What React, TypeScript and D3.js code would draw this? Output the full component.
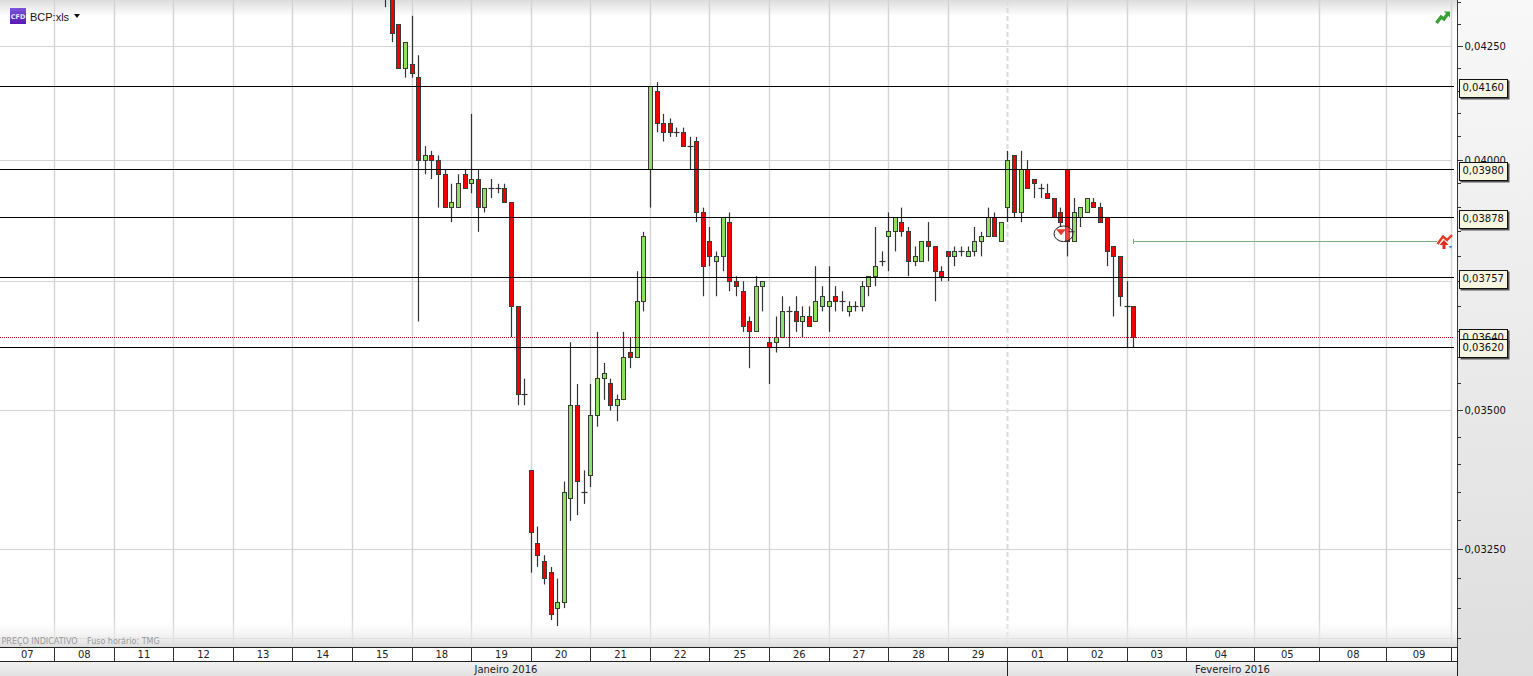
import React from "react";
import * as d3 from "d3";

const opens = [.0440,.0436,.0430,.0420,.0421,.0418,.0400,.0401,.0400,.0397,.0390,.0390,.0397,.0395,.0396,.0390,.0394,.0394,.0394,.0391,.0370,.0353,.0339,.0326,.0323,.0321,.0315,.0316,.0334,.0351,.0335,.0338,.0349,.0356,.0355,.0351,.0352,.0361,.0360,.0371,.0398,.0415,.0408,.0408,.0406,.0406,.0403,.0404,.0389,.0383,.0379,.0380,.0387,.0375,.0373,.0367,.0365,.0374,.0363,.0363,.0364,.0369,.0369,.0367,.0368,.0367,.0370,.0370,.0372,.0371,.0369,.0370,.0370,.0374,.0376,.0379,.0384,.0385,.0387,.0385,.0379,.0379,.0383,.0382,.0377,.0381,.0380,.0381,.0380,.0381,.0383,.0384,.0388,.0383,.0390,.0401,.0389,.0398,.0396,.0394,.0393,.0392,.0389,.0398,.0383,.0388,.0389,.0391,.0390,.0388,.0382,.0380,.0370,.0370];
const highs = [.0442,.0437,.0430,.0426,.0432,.0423,.0403,.0402,.0401,.0398,.0395,.0397,.0398,.0410,.0398,.0394,.0396,.0395,.0395,.0391,.0370,.0356,.0339,.0329,.0324,.0322,.0320,.0337,.0363,.0355,.0339,.0355,.0365,.0359,.0356,.0353,.0365,.0364,.0377,.0385,.0416,.0417,.0410,.0409,.0407,.0407,.0405,.0405,.0390,.0386,.0381,.0388,.0389,.0376,.0375,.0368,.0376,.0375,.0364,.0368,.0372,.0370,.0372,.0370,.0370,.0378,.0374,.0378,.0374,.0373,.0371,.0371,.0375,.0376,.0386,.0381,.0389,.0388,.0390,.0386,.0382,.0383,.0387,.0382,.0378,.0381,.0382,.0382,.0382,.0386,.0385,.0390,.0389,.0387,.0402,.0401,.0402,.0400,.0396,.0395,.0395,.0392,.0390,.0398,.0392,.0390,.0392,.0392,.0391,.0388,.0382,.0380,.0375,.0370];
const lows = [.0434,.0426,.0420,.0418,.0418,.0367,.0397,.0396,.0390,.0390,.0387,.0390,.0394,.0393,.0385,.0389,.0392,.0393,.0391,.0364,.0351,.0351,.0321,.0322,.0319,.0313,.0312,.0315,.0330,.0331,.0333,.0336,.0347,.0352,.0350,.0348,.0352,.0358,.0360,.0369,.0390,.0406,.0404,.0405,.0405,.0403,.0398,.0387,.0372,.0378,.0372,.0377,.0373,.0372,.0365,.0358,.0365,.0369,.0355,.0361,.0364,.0362,.0365,.0364,.0366,.0367,.0369,.0365,.0369,.0369,.0368,.0369,.0369,.0372,.0374,.0378,.0377,.0381,.0384,.0376,.0378,.0379,.0379,.0371,.0375,.0375,.0378,.0380,.0380,.0380,.0380,.0384,.0384,.0383,.0387,.0388,.0387,.0394,.0392,.0392,.0392,.0388,.0386,.0380,.0383,.0386,.0389,.0390,.0387,.0378,.0368,.0370,.0362,.0362];
const closes = [.0437,.0428,.0420,.0426,.0419,.0400,.0401,.0400,.0397,.0390,.0391,.0395,.0394,.0396,.0390,.0394,.0394,.0394,.0391,.0370,.0353,.0353,.0328,.0324,.0320,.0314,.0316,.0335,.0351,.0337,.0335,.0349,.0356,.0357,.0351,.0352,.0360,.0360,.0371,.0384,.0416,.0408,.0406,.0406,.0406,.0403,.0403,.0389,.0378,.0380,.0380,.0388,.0375,.0374,.0366,.0365,.0374,.0375,.0362,.0364,.0369,.0369,.0367,.0368,.0366,.0371,.0372,.0371,.0371,.0371,.0370,.0370,.0374,.0376,.0378,.0379,.0385,.0388,.0385,.0379,.0380,.0383,.0382,.0377,.0376,.0380,.0381,.0381,.0381,.0383,.0384,.0388,.0384,.0387,.0400,.0389,.0398,.0394,.0395,.0394,.0392,.0388,.0387,.0383,.0389,.0390,.0392,.0390,.0387,.0381,.0380,.0372,.0370,.0364];

const levels = [0.0416, 0.0398, 0.03879, 0.03757, 0.0362];
const levelLabels = ["0,04160", "0,03980", "0,03878", "0,03757", "0,03620"];
const lastPrice = 0.0364;
const lastPriceLabel = "0,03640";
const labelledTicks = [0.0425, 0.04, 0.035, 0.0325];
const labelledTickText = ["0,04250", "0,04000", "0,03500", "0,03250"];
const gridPrices = [0.0425, 0.04, 0.0375, 0.035, 0.0325, 0.031];
const minorTicks = [0.0435,0.043,0.042,0.0415,0.041,0.0405,0.0395,0.039,0.0385,0.038,0.0375,0.037,0.0365,0.036,0.0355,0.0345,0.034,0.0335,0.033,0.032,0.0315,0.031];
const dayLabels = ["07","08","11","12","13","14","15","18","19","20","21","22","25","26","27","28","29","01","02","03","04","05","08","09"];
// day boundaries, in candle-slot units
const dayBounds = [-50,-41,-32,-23,-14,-5,4,13,22,31,40,49,58,67,76,85,94,103,112,121,131.3,141.1,151.2,161];
const monthBoundIndex = 94;
const signalPrice = 0.0383;
const signalIndex = 113;
const markerIndex = 102.4;
const markerPrice = 0.03846;
const months = ["Janeiro 2016", "Fevereiro 2016"];

const W = 1533, H = 676;
const font = "'DejaVu Sans', sans-serif";

export default function App() {
  const y = d3.scaleLog().domain([0.0425, 0.0325]).range([46.5, 549.5]);
  const x = d3.scaleLinear().domain([0, 113]).range([385.6, 1133.7]);
  const snap = (v: number) => Math.round(v - 0.5) + 0.5;
  const plotRight = 1457;
  const plotBottom = 647;
  const row1 = 661;
  const bounds = [0, ...dayBounds.map((d) => x(d))];
  const monthX = x(monthBoundIndex);
  const markX = x(markerIndex), markY = y(markerPrice);
  const sigY = snap(y(signalPrice));
  const sigX = snap(x(signalIndex));

  return (
    <svg width={W} height={H} style={{ position: "fixed", left: 0, top: 0, display: "block", background: "#fff" }}>
      <defs>
        <linearGradient id="top" x1="0" y1="0" x2="0" y2="1">
          <stop offset="0" stopColor="#dcdcdc" />
          <stop offset="1" stopColor="#ffffff" />
        </linearGradient>
        <linearGradient id="bot" x1="0" y1="0" x2="0" y2="1">
          <stop offset="0" stopColor="#ffffff" stopOpacity="0" />
          <stop offset="1" stopColor="#dcdcdc" stopOpacity="1" />
        </linearGradient>
        <linearGradient id="side" x1="0" y1="0" x2="0" y2="1">
          <stop offset="0" stopColor="#f8f8f8" />
          <stop offset="1" stopColor="#dedede" />
        </linearGradient>
        <linearGradient id="month" x1="0" y1="0" x2="0" y2="1">
          <stop offset="0" stopColor="#f2f2f2" />
          <stop offset="1" stopColor="#e2e2e2" />
        </linearGradient>
        <linearGradient id="cfd" x1="0" y1="0" x2="0" y2="1">
          <stop offset="0" stopColor="#7a55d8" />
          <stop offset="1" stopColor="#5a18b0" />
        </linearGradient>
        <clipPath id="plot"><rect x={0} y={0} width={plotRight} height={plotBottom} /></clipPath>
      </defs>

      <rect x={0} y={0} width={plotRight} height={16} fill="url(#top)" />

      {/* grid */}
      {gridPrices.map((p) => (
        <line key={p} x1={0} x2={1452} y1={snap(y(p))} y2={snap(y(p))} stroke="#d4d4d4" strokeWidth={1.2} />
      ))}
      {dayBounds.map((d, i) => {
        const gx = snap(x(d));
        return (
          <line key={i} x1={gx} x2={gx} y1={0} y2={plotBottom}
            stroke={d === monthBoundIndex ? "#dcdcdc" : "#d4d4d4"} strokeWidth={d === monthBoundIndex ? 2 : 1.4}
            strokeDasharray={d === monthBoundIndex ? "5 3" : undefined} />
        );
      })}

      <rect x={0} y={618} width={plotRight} height={plotBottom - 618} fill="url(#bot)" />

      {/* side panel */}
      <rect x={plotRight} y={0} width={W - plotRight} height={H} fill="url(#side)" />
      <line x1={plotRight + 0.5} x2={plotRight + 0.5} y1={0} y2={plotBottom} stroke="#3a3a3a" />

      {/* candles */}
      <g clipPath="url(#plot)">
        {opens.map((o, i) => {
          const c = closes[i];
          const cx = snap(x(i));
          const top = Math.max(o, c), bot = Math.min(o, c);
          const yTop = snap(y(top)), yBot = snap(y(bot));
          return (
            <g key={i}>
              <line x1={cx} x2={cx} y1={y(highs[i])} y2={y(lows[i])} stroke="#333" strokeWidth={1.2} />
              {o === c ? (
                <line x1={cx - 3} x2={cx + 3} y1={yTop} y2={yTop} stroke="#333" strokeWidth={1.2} />
              ) : (
                <rect x={cx - 2} y={yTop} width={4} height={Math.max(yBot - yTop, 3)}
                  fill={c < o ? "#f00000" : "#90e060"} stroke="#3a3a3a" strokeWidth={1} />
              )}
            </g>
          );
        })}
      </g>

      {/* last price */}
      <line x1={0} x2={1454} y1={snap(y(lastPrice))} y2={snap(y(lastPrice))} stroke="#a81818" strokeWidth={1} strokeDasharray="1 1" />
      {/* levels */}
      {levels.map((p) => (
        <line key={p} x1={0} x2={1454} y1={snap(y(p))} y2={snap(y(p))} stroke="#000" strokeWidth={1} />
      ))}

      {/* signal line */}
      <line x1={sigX} x2={1437} y1={sigY} y2={sigY} stroke="#7fae7f" strokeWidth={1} />
      <line x1={sigX} x2={sigX} y1={sigY - 2.5} y2={sigY + 2.5} stroke="#7fae7f" strokeWidth={1} />

      {/* marker */}
      <ellipse cx={markX} cy={markY} rx={9.5} ry={7.8} fill="#fff" fillOpacity={0.25} stroke="#222" strokeWidth={1} />
      <path d={`M${markX - 7.5},${markY - 4.5} h10 l-5,6 z`} fill="#e8392a" />
      <line x1={markX + 5} x2={markX + 11} y1={markY - 2} y2={markY - 2} stroke="#222" />

      {/* y axis ticks */}
      {minorTicks.map((p) => (
        <line key={p} x1={plotRight} x2={1461} y1={snap(y(p))} y2={snap(y(p))} stroke="#333" />
      ))}
      {labelledTicks.map((p, i) => (
        <g key={p}>
          <line x1={plotRight} x2={1463} y1={snap(y(p))} y2={snap(y(p))} stroke="#333" />
          <text x={1464.5} y={y(p) + 3.5} fontFamily={font} fontSize={10} fill="#111">{labelledTickText[i]}</text>
        </g>
      ))}

      {/* price boxes */}
      {[lastPrice, ...levels.slice().reverse()].map((p) => {
        const isLast = p === lastPrice;
        const text = isLast ? lastPriceLabel : levelLabels[levels.indexOf(p)];
        return { p, text };
      }).sort((a, b) => (a.p === lastPrice ? -1 : b.p === lastPrice ? 1 : 0)).map(({ p, text }) => {
        const by = Math.round(y(p)) - 8;
        return (
          <g key={p}>
            <rect x={1460.5} y={by + 1.5} width={49} height={19} fill="#555" />
            <rect x={1459.5} y={by + 0.5} width={48} height={18} fill="#f6f6e2" stroke="#111" strokeWidth={1} />
            <text x={1462.5} y={by + 12.3} fontFamily={font} fontSize={10} fill="#111">{text}</text>
          </g>
        );
      })}

      {/* date rows */}
      <rect x={0} y={plotBottom} width={plotRight} height={row1 - plotBottom} fill="#fff" />
      <rect x={0} y={row1} width={plotRight} height={H - row1} fill="url(#month)" />
      <line x1={0} x2={plotRight} y1={plotBottom + 0.5} y2={plotBottom + 0.5} stroke="#222" />
      <line x1={0} x2={plotRight} y1={row1 + 0.5} y2={row1 + 0.5} stroke="#222" />
      <line x1={plotRight + 0.5} x2={plotRight + 0.5} y1={plotBottom} y2={H} stroke="#222" />
      {dayBounds.map((d, i) => (
        <line key={i} x1={snap(x(d))} x2={snap(x(d))} y1={plotBottom} y2={row1} stroke="#333" />
      ))}
      <line x1={snap(monthX)} x2={snap(monthX)} y1={row1} y2={H} stroke="#222" />
      {dayLabels.map((t, i) => (
        <text key={i} x={(bounds[i] + bounds[i + 1]) / 2} y={657.5}
          textAnchor="middle" fontFamily={font} fontSize={10} fill="#222">{t}</text>
      ))}
      <text x={monthX / 2 + 2} y={673} textAnchor="middle" fontFamily={font} fontSize={10} fill="#222">{months[0]}</text>
      <text x={(monthX + plotRight) / 2} y={673} textAnchor="middle" fontFamily={font} fontSize={10} fill="#222">{months[1]}</text>

      {/* header */}
      <rect x={10} y={8} width={16} height={16} fill="url(#cfd)" />
      <text x={18} y={19} textAnchor="middle" fontFamily={font} fontSize={6.5} fontWeight="bold" fill="#dfe8ff">CFD</text>
      <text x={30} y={21} fontFamily="'Liberation Sans', sans-serif" fontSize={11} fill="#111">BCP:xls</text>
      <path d="M74,14 h6 l-3,4 z" fill="#111" />

      <text x={1.5} y={644} fontFamily={font} fontSize={8} fill="#999">PREÇO INDICATIVO</text>
      <text x={87} y={644} fontFamily={font} fontSize={8} fill="#999">Fuso horário: TMG</text>

      {/* icons */}
      <path d="M1436.5,23 L1441,17 L1444,19 L1448,13.5" fill="none" stroke="#3aa034" strokeWidth={3.4} />
      <path d="M1444,11.5 h6 v6 z" fill="#3aa034" />
      <path d="M1437.5,244 L1443,236.5 L1447,240 L1452,235" fill="none" stroke="#e63a20" strokeWidth={2.4} />
      <path d="M1444,240 L1448.5,245 H1445.5 V249 H1442.5 V245 H1439.5 Z" fill="#e0281c" />
      <path d="M1448.5,246 h4 l-2,2.5 z" fill="#4a8ad8" />
    </svg>
  );
}
